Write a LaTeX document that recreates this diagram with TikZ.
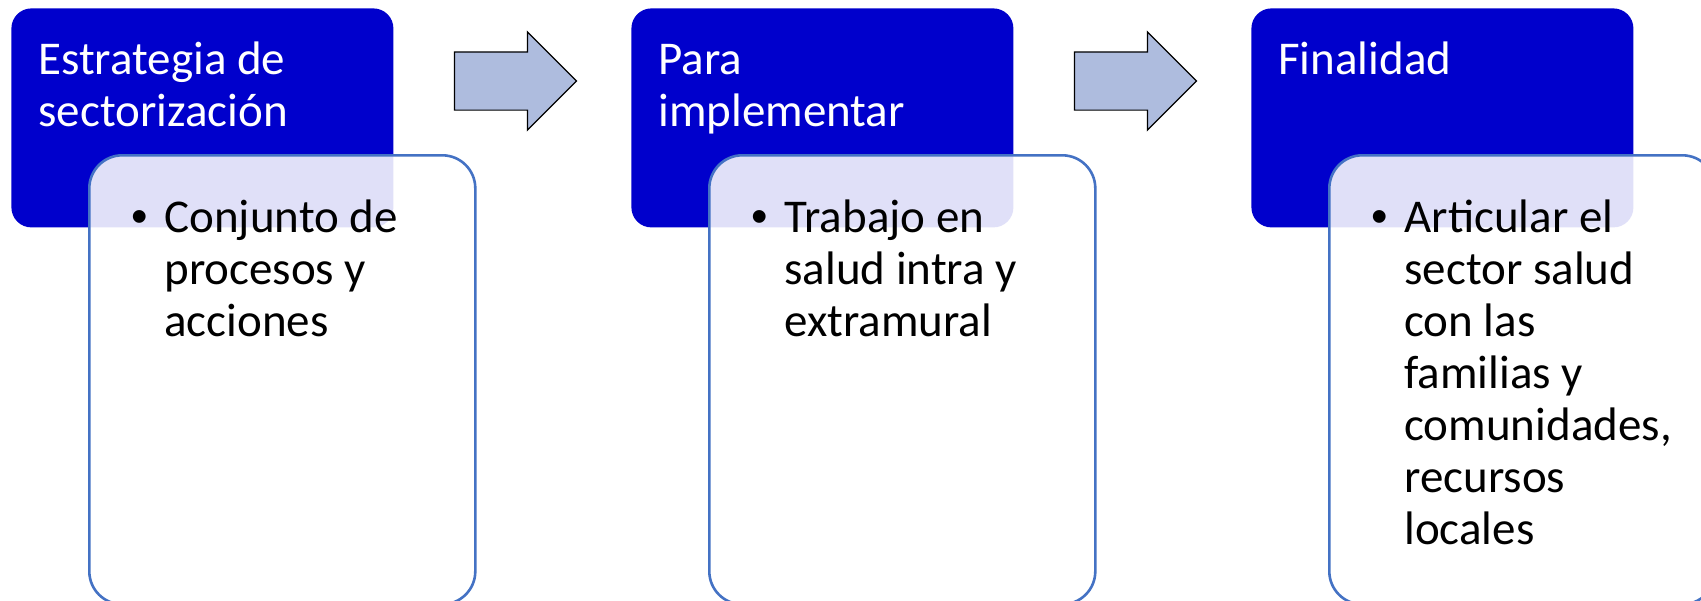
\documentclass[tikz,border=0pt]{standalone}
\usepackage{fontspec}
\setmainfont{Carlito}
\newfontfamily\bulletfont{Liberation Sans}
\usetikzlibrary{shapes.arrows}
\definecolor{headblue}{RGB}{0,0,204}
\definecolor{boxline}{RGB}{68,114,196}
\definecolor{arrowfill}{RGB}{174,188,222}
\newcommand{\headlines}[1]{\begin{tabular}[t]{@{}l@{}}#1\end{tabular}}
\newcommand{\bulletitem}[1]{\begin{tabular}[t]{@{}p{16.5pt}@{}l@{}}{\bulletfont\textbullet} & \begin{tabular}[t]{@{}l@{}}#1\end{tabular}\end{tabular}}

\begin{document}
\begin{tikzpicture}[x=0.5pt, y=-0.5pt,
headbox/.style={rectangle, rounded corners=10pt, fill=headblue, anchor=north west, minimum width=191pt, minimum height=109.5pt, inner sep=0pt},
bodybox/.style={rectangle, rounded corners=16.5pt, draw=boxline, line width=1.3pt, fill=white, fill opacity=0.88, anchor=north west, minimum width=193pt, minimum height=224.5pt, inner sep=0pt},
headtext/.style={text=white, anchor=base west, inner sep=0pt, font=\fontsize{23.5}{26}\selectfont},
bodytext/.style={text=black, anchor=base west, inner sep=0pt, font=\fontsize{23.5}{26}\selectfont},
blockarrow/.style={single arrow, draw=black, line width=0.6pt, fill=arrowfill, minimum height=61pt, minimum width=48.5pt, single arrow head extend=10pt, inner xsep=0pt, inner ysep=14.25pt},
]
\useasboundingbox (0,0) rectangle (1701,600);
\clip (0,0) rectangle (1701,600);
%Nodes
\node[headbox]    at (11,8) (head1) {};
\node[headtext]   at (38,74) (htext1) {\headlines{Estrategia de\\sectorización}};
\node[bodybox]    at (88,154) (body1) {};
\node[bodytext]   at (131,232) (btext1) {\bulletitem{Conjunto de\\procesos y\\acciones}};
\node[headbox]    at (631,8) (head2) {};
\node[headtext]   at (658,74) (htext2) {\headlines{Para\\implementar}};
\node[bodybox]    at (708,154) (body2) {};
\node[bodytext]   at (751,232) (btext2) {\bulletitem{Trabajo en\\salud intra y\\extramural}};
\node[headbox]    at (1251,8) (head3) {};
\node[headtext]   at (1278,74) (htext3) {\headlines{Finalidad}};
\node[bodybox]    at (1328,154) (body3) {};
\node[bodytext]   at (1371,232) (btext3) {\bulletitem{Articular el\\sector salud\\con las\\familias y\\comunidades,\\recursos\\locales}};
%Arrows
\node[blockarrow] at (501,81) (arrow1) {};
\node[blockarrow] at (1121,81) (arrow2) {};
\end{tikzpicture}
\end{document}
